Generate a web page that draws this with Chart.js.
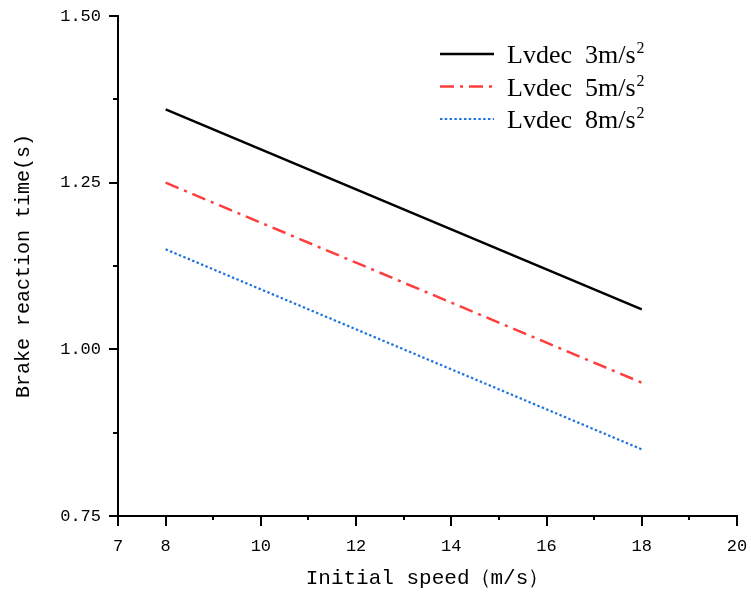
<!DOCTYPE html>
<html>
<head>
<meta charset="utf-8">
<script src="https://cdn.jsdelivr.net/npm/chart.js@4.4.1/dist/chart.umd.min.js"></script>
<style>
  html, body { margin: 0; padding: 0; background: #fff; }
  #wrap { width: 751px; height: 593px; }
</style>
</head>
<body>
<div id="wrap"><canvas id="c" width="751" height="593"></canvas></div>
<script>
// ---- data ----
const speeds = [8, 10, 12, 14, 16, 18];
const lvdec3 = [1.36, 1.30, 1.24, 1.18, 1.12, 1.06];
const lvdec5 = [1.25, 1.19, 1.13, 1.07, 1.01, 0.95];
const lvdec8 = [1.15, 1.09, 1.03, 0.97, 0.91, 0.85];
const seriesNames = ['Lvdec  3m/s', 'Lvdec  5m/s', 'Lvdec  8m/s'];
const seriesSup = ['2', '2', '2'];
const xMajorTicks = [7, 8, 10, 12, 14, 16, 18, 20];
const xMinorTicks = [9, 11, 13, 15, 17, 19];
const yMajorTicks = [0.75, 1.00, 1.25, 1.50];
const yMinorTicks = [0.875, 1.125, 1.375];
const xTitle = 'Initial speed（m/s）';
const yTitle = 'Brake reaction time(s)';

const FONT = '"Liberation Mono", "DejaVu Sans Mono", monospace';
const LEGEND_FONT = '"Liberation Serif", "Times New Roman", serif';

function pts(ys) { return speeds.map((x, i) => ({ x: x, y: ys[i] })); }

const tickMarks = {
  id: 'tickMarks',
  afterDraw(chart) {
    const ctx = chart.ctx;
    const xs = chart.scales.x, ys = chart.scales.y;
    const ca = chart.chartArea;
    ctx.save();
    ctx.strokeStyle = '#000';
    ctx.lineWidth = 2;
    ctx.beginPath();
    xMajorTicks.forEach(v => { const p = Math.round(xs.getPixelForValue(v)); ctx.moveTo(p, ca.bottom); ctx.lineTo(p, ca.bottom + 10); });
    xMinorTicks.forEach(v => { const p = Math.round(xs.getPixelForValue(v)); ctx.moveTo(p, ca.bottom); ctx.lineTo(p, ca.bottom + 4); });
    yMajorTicks.forEach(v => { const p = Math.round(ys.getPixelForValue(v)); ctx.moveTo(ca.left, p); ctx.lineTo(ca.left - 9, p); });
    yMinorTicks.forEach(v => { const p = Math.round(ys.getPixelForValue(v)); ctx.moveTo(ca.left, p); ctx.lineTo(ca.left - 5, p); });
    ctx.stroke();
    ctx.restore();
  }
};

const customLegend = {
  id: 'customLegend',
  afterDraw(chart) {
    const ctx = chart.ctx;
    const ca = chart.chartArea;
    const x0 = ca.right - 297, x1 = ca.right - 243, tx = ca.right - 230;
    let y = ca.top + 38;
    ctx.save();
    chart.data.datasets.forEach((ds, i) => {
      ctx.beginPath();
      ctx.strokeStyle = ds.borderColor;
      ctx.lineWidth = ds.borderWidth;
      ctx.setLineDash(ds.borderDash || []);
      ctx.moveTo(x0, y); ctx.lineTo(x1, y);
      ctx.stroke();
      ctx.setLineDash([]);
      ctx.fillStyle = '#000';
      ctx.textBaseline = 'alphabetic';
      ctx.font = '26px ' + LEGEND_FONT;
      ctx.fillText(seriesNames[i], tx, y + 9);
      const w = ctx.measureText(seriesNames[i]).width;
      ctx.font = '16px ' + LEGEND_FONT;
      ctx.fillText(seriesSup[i], tx + w + 1, y - 1);
      y += 32.5;
    });
    ctx.restore();
  }
};

new Chart(document.getElementById('c'), {
  type: 'line',
  data: {
    datasets: [
      { label: seriesNames[0] + seriesSup[0], data: pts(lvdec3), borderColor: '#000000', borderWidth: 2.5, borderDash: [], pointRadius: 0, fill: false, tension: 0 },
      { label: seriesNames[1] + seriesSup[1], data: pts(lvdec5), borderColor: '#ff3d3d', borderWidth: 2.5, borderDash: [14, 6, 3, 6], pointRadius: 0, fill: false, tension: 0 },
      { label: seriesNames[2] + seriesSup[2], data: pts(lvdec8), borderColor: '#1c72e0', borderWidth: 2.2, borderDash: [2.4, 2.4], pointRadius: 0, fill: false, tension: 0 }
    ]
  },
  options: {
    responsive: false,
    animation: false,
    layout: { padding: { left: 0, top: 16, right: 14, bottom: 0 } },
    plugins: { legend: { display: false }, tooltip: { enabled: false } },
    scales: {
      x: {
        type: 'linear', min: 7, max: 20,
        afterBuildTicks: s => { s.ticks = xMajorTicks.map(v => ({ value: v })); },
        afterFit: s => { s.height = 77; },
        grid: { display: true, drawOnChartArea: false, drawTicks: true, tickLength: 20, tickColor: 'rgba(0,0,0,0)' },
        border: { display: true, color: '#000', width: 2 },
        ticks: { color: '#000', font: { family: FONT, size: 17 }, padding: 0, maxRotation: 0, autoSkip: false, callback: v => String(v) },
        title: { display: true, text: xTitle, color: '#000', font: { family: FONT, size: 21 }, padding: { top: 0, bottom: 2 } }
      },
      y: {
        type: 'linear', min: 0.75, max: 1.5,
        afterBuildTicks: s => { s.ticks = yMajorTicks.map(v => ({ value: v })); },
        afterFit: s => { s.width = 118; },
        grid: { display: true, drawOnChartArea: false, drawTicks: true, tickLength: 17, tickColor: 'rgba(0,0,0,0)' },
        border: { display: true, color: '#000', width: 2 },
        ticks: { color: '#000', font: { family: FONT, size: 17 }, padding: 0, autoSkip: false, callback: v => v.toFixed(2) },
        title: { display: true, text: yTitle, color: '#000', font: { family: FONT, size: 20 }, padding: { top: 12, bottom: 0 } }
      }
    }
  },
  plugins: [tickMarks, customLegend]
});
</script>
</body>
</html>
